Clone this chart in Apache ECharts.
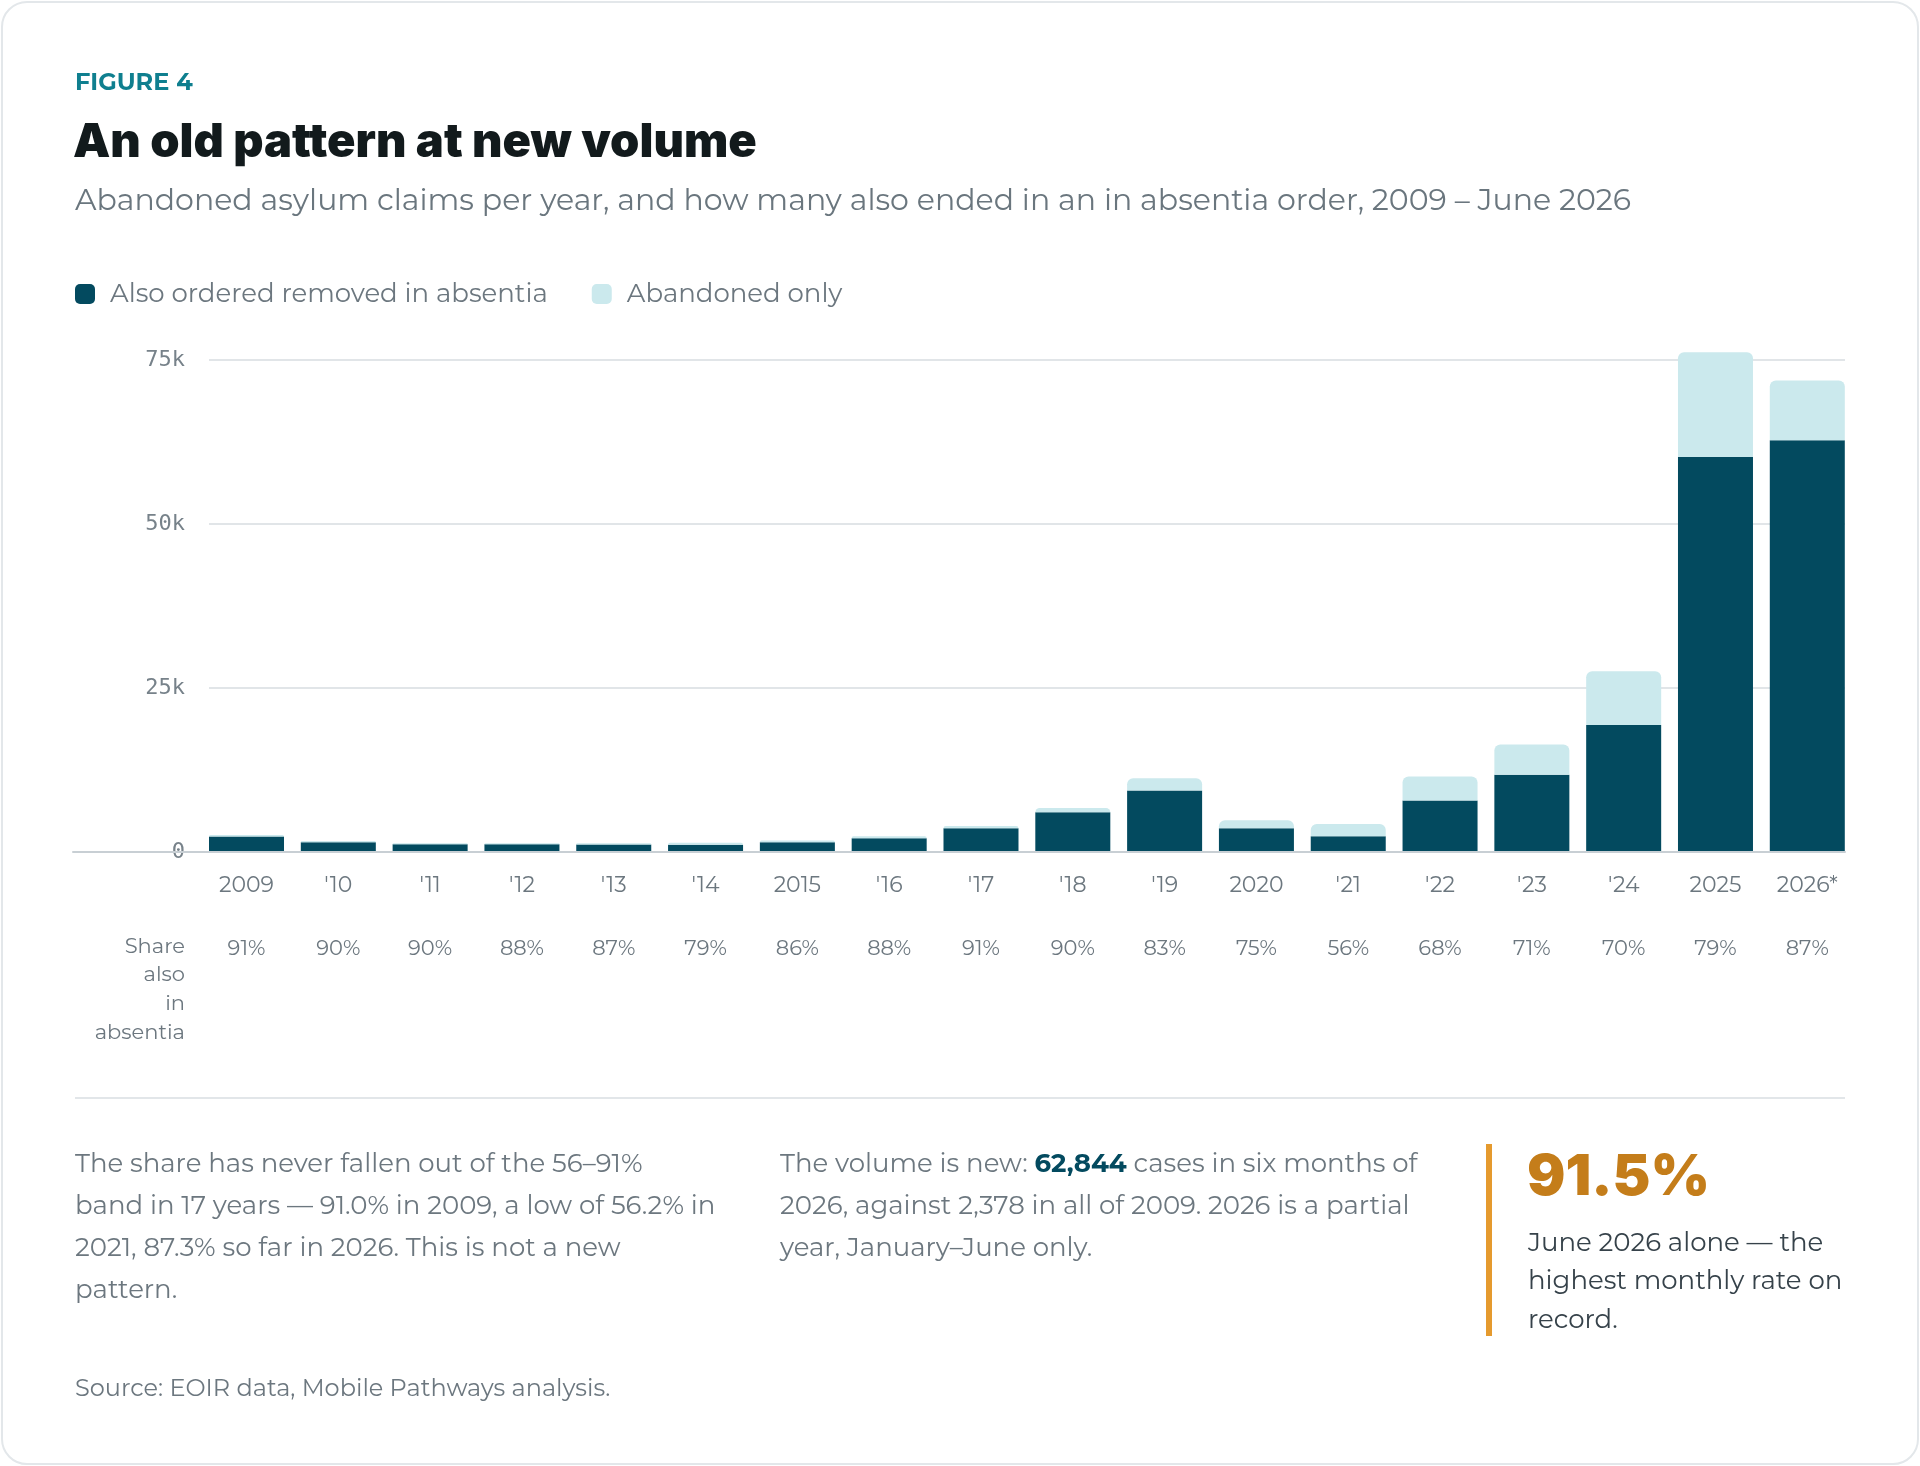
<!DOCTYPE html>
<html>
<head>
<meta charset="utf-8">
<script src="https://cdn.jsdelivr.net/npm/echarts@6/dist/echarts.min.js"></script>
<style>
  html, body { margin: 0; padding: 0; background: #fff; }
  #card { position: absolute; left: 1px; top: 1px; width: 1914px; height: 1460px;
          border: 2px solid #e3e7ea; border-radius: 26px; background: #fff; }
  #chart { position: absolute; left: 0; top: 0; width: 1920px; height: 1466px; }
</style>
</head>
<body>
<div id="card"></div>
<div id="chart"></div>
<script>
// 数据
var years = ['2009', "'10", "'11", "'12", "'13", "'14", '2015', "'16", "'17", "'18", "'19", '2020', "'21", "'22", "'23", "'24", '2025', '2026*'];
var inAbsentia = [2378, 1500, 1200, 1170, 1150, 1120, 1500, 2100, 3620, 6060, 9390, 3640, 2420, 7880, 11800, 19400, 60300, 62844];
var abandonedOnly = [235, 167, 130, 160, 170, 300, 240, 290, 360, 670, 1870, 1210, 1870, 3640, 4600, 8200, 16000, 9146];
var shareLabels = ['91%', '90%', '90%', '88%', '87%', '79%', '86%', '88%', '91%', '90%', '83%', '75%', '56%', '68%', '71%', '70%', '79%', '87%'];
var yTicks = [0, 25000, 50000, 75000];

var SANS = '"Montserrat", "Noto Sans", sans-serif';
var HEAVY = '"Inter", "Noto Sans", sans-serif';
var MONO = '"DejaVu Sans Mono", monospace';
var GRAY = '#6c777f';

var dom = document.getElementById('chart');
var myChart = echarts.init(dom);

// 柱子所在网格和刻度网格分开，方便让网格线从第一根柱子左边缘开始
var barGrid = { left: 200.6, right: 66.8, top: 328, bottom: 614 };

var option = {
    animation: false,
    legend: {
        left: 75,
        top: 281,
        padding: 0,
        itemWidth: 20,
        itemHeight: 20,
        itemGap: 44,
        icon: 'roundRect',
        selectedMode: false,
        textStyle: { fontFamily: SANS, fontSize: 26, color: GRAY, padding: [0, 0, 0, 10] },
        data: ['Also ordered removed in absentia', 'Abandoned only']
    },
    grid: [
        { left: barGrid.left, right: barGrid.right, top: barGrid.top, bottom: barGrid.bottom },
        { left: 209, right: 75, top: 360, bottom: 614 },
        { left: 73, right: 75, top: 360, bottom: 614 },
        { left: barGrid.left, right: barGrid.right, top: barGrid.top, bottom: barGrid.bottom }
    ],
    xAxis: [
        {
            gridIndex: 0, type: 'category', data: years,
            axisLine: { show: false }, axisTick: { show: false },
            axisLabel: { margin: 23, fontFamily: SANS, fontSize: 22, color: GRAY }
        },
        { gridIndex: 1, type: 'category', data: years, show: false },
        {
            gridIndex: 2, type: 'value', min: 0, max: 1, z: 10,
            axisLine: { show: true, lineStyle: { color: '#c8cfd4', width: 2 } },
            axisTick: { show: false }, axisLabel: { show: false }, splitLine: { show: false }
        },
        {
            gridIndex: 3, type: 'category', data: shareLabels,
            axisLine: { show: false }, axisTick: { show: false },
            axisLabel: { margin: 86, fontFamily: SANS, fontSize: 21, color: GRAY }
        }
    ],
    yAxis: [
        { gridIndex: 0, type: 'value', min: 0, max: 80000, show: false },
        {
            gridIndex: 1, type: 'value', min: yTicks[0], max: yTicks[yTicks.length - 1], interval: 25000,
            axisLine: { show: false }, axisTick: { show: false },
            axisLabel: {
                margin: 24, fontFamily: MONO, fontSize: 22, color: '#77828a',
                formatter: function (v) { return v === 0 ? '0' : (v / 1000) + 'k'; }
            },
            splitLine: { lineStyle: { color: '#e1e5e8', width: 2 } }
        },
        { gridIndex: 2, type: 'value', show: false },
        { gridIndex: 3, type: 'value', show: false }
    ],
    series: [
        {
            name: 'Also ordered removed in absentia', type: 'bar', stack: 'total',
            xAxisIndex: 0, yAxisIndex: 0, barWidth: 75,
            itemStyle: { color: '#034a5f' },
            data: inAbsentia
        },
        {
            name: 'Abandoned only', type: 'bar', stack: 'total',
            xAxisIndex: 0, yAxisIndex: 0, barWidth: 75,
            itemStyle: { color: '#cbe9ed', borderRadius: [6, 6, 0, 0] },
            data: abandonedOnly
        }
    ],
    graphic: [
        {
            type: 'text', left: 75, top: 71,
            style: { text: 'FIGURE 4', fontFamily: SANS, fontSize: 24, fontWeight: 'bold', fill: '#0f7f8f' }
        },
        {
            type: 'text', left: 73, top: 119,
            style: { text: 'An old pattern at new volume', fontFamily: HEAVY, fontSize: 47, fontWeight: 900, fill: '#121a1c' }
        },
        {
            type: 'text', left: 75, top: 186,
            style: { text: 'Abandoned asylum claims per year, and how many also ended in an in absentia order, 2009 \u2013 June 2026', fontFamily: SANS, fontSize: 30, fill: '#6a767e' }
        },
        {
            type: 'text', right: 1920 - 185, top: 932,
            style: { text: 'Share\nalso\nin\nabsentia', fontFamily: SANS, fontSize: 21, lineHeight: 28.7, fill: GRAY, textAlign: 'right' }
        },
        {
            type: 'rect', shape: { x: 75, y: 1097, width: 1770, height: 2 },
            style: { fill: '#e2e6e9' }, silent: true
        },
        {
            type: 'text', left: 75, top: 1144,
            style: {
                text: 'The share has never fallen out of the 56\u201391%\nband in 17 years \u2014 91.0% in 2009, a low of 56.2% in\n2021, 87.3% so far in 2026. This is not a new\npattern.',
                fontFamily: SANS, fontSize: 26, lineHeight: 41.7, fill: GRAY
            }
        },
        {
            type: 'text', left: 780, top: 1144,
            style: {
                text: 'The volume is new: {b|62,844} cases in six months of\n2026, against 2,378 in all of 2009. 2026 is a partial\nyear, January\u2013June only.',
                fontFamily: SANS, fontSize: 26, lineHeight: 41.7, fill: GRAY,
                rich: { b: { fontFamily: SANS, fontSize: 26, lineHeight: 41.7, fontWeight: 'bold', fill: '#034a5f' } }
            }
        },
        {
            type: 'rect', shape: { x: 1486, y: 1144, width: 6, height: 192 },
            style: { fill: '#e59a2e' }, silent: true
        },
        {
            type: 'text', left: 1527, top: 1149,
            style: { text: '91.5%', fontFamily: HEAVY, fontSize: 57, fontWeight: 900, fill: '#c47d1a' }
        },
        {
            type: 'text', left: 1528, top: 1224,
            style: {
                text: 'June 2026 alone \u2014 the\nhighest monthly rate on\nrecord.',
                fontFamily: SANS, fontSize: 26, lineHeight: 38.5, fill: '#36424a'
            }
        },
        {
            type: 'text', left: 75, top: 1377,
            style: { text: 'Source: EOIR data, Mobile Pathways analysis.', fontFamily: SANS, fontSize: 24, fill: GRAY }
        }
    ]
};
myChart.setOption(option);
</script>
</body>
</html>
